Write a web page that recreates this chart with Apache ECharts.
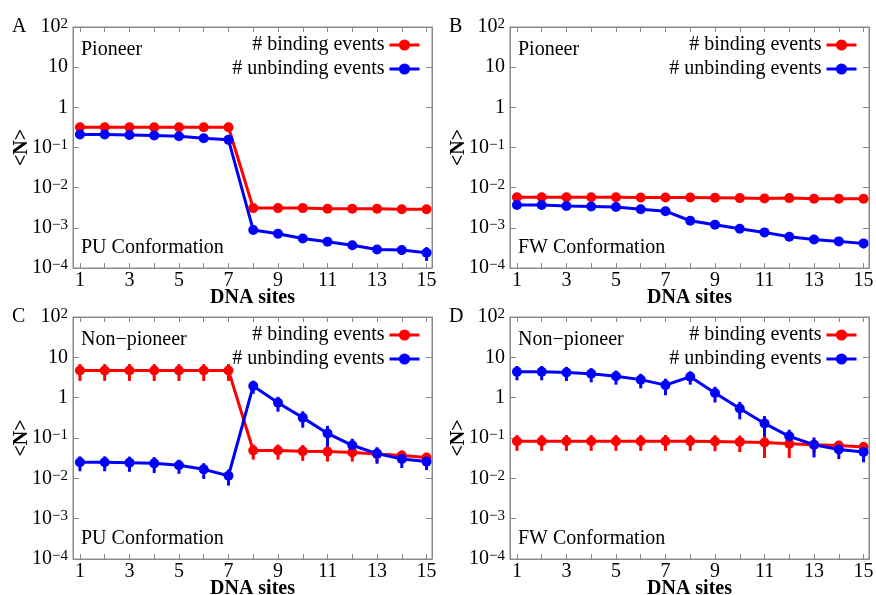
<!DOCTYPE html>
<html>
<head>
<meta charset="utf-8">
<script src="https://cdn.jsdelivr.net/npm/echarts@6/dist/echarts.min.js"></script>
<style>
	html, body { margin: 0; padding: 0; background: #fff; }
	#chart { width: 876px; height: 595px; }
</style>
</head>
<body>
<div id="chart"></div>
<script>
var sites = [1, 2, 3, 4, 5, 6, 7, 8, 9, 10, 11, 12, 13, 14, 15];
var siteLabels = [1, 3, 5, 7, 9, 11, 13, 15];

// A: pioneer, PU conformation
var puPioneerBind = [0.32, 0.32, 0.32, 0.32, 0.32, 0.32, 0.32, 0.0031, 0.0031, 0.0031, 0.003, 0.003, 0.003, 0.0029, 0.0029];
var puPioneerBindErr = [0.02, 0.02, 0.02, 0.02, 0.02, 0.02, 0.02, 0.0003, 0.0003, 0.0003, 0.0003, 0.0003, 0.0003, 0.0003, 0.0003];
var puPioneerUnbind = [0.21, 0.21, 0.205, 0.2, 0.19, 0.17, 0.155, 0.00088, 0.00071, 0.00054, 0.00045, 0.00037, 0.00029, 0.00028, 0.00024];
var puPioneerUnbindErr = [0.02, 0.02, 0.02, 0.02, 0.02, 0.02, 0.02, 0.00015, 0.0001, 0.0001, 0.00008, 0.00007, 0.00006, 0.00007, 0.00009];

// B: pioneer, FW conformation
var fwPioneerBind = [0.0058, 0.0058, 0.0058, 0.0058, 0.0058, 0.0057, 0.0057, 0.0057, 0.0056, 0.0055, 0.0054, 0.0055, 0.0053, 0.0053, 0.0053];
var fwPioneerBindErr = [0.0005, 0.0005, 0.0005, 0.0005, 0.0005, 0.0005, 0.0005, 0.0005, 0.0005, 0.0005, 0.0005, 0.0005, 0.0005, 0.0005, 0.0005];
var fwPioneerUnbind = [0.0037, 0.0037, 0.0035, 0.0034, 0.0033, 0.0029, 0.0026, 0.0015, 0.0012, 0.00095, 0.00077, 0.0006, 0.00051, 0.00046, 0.00041];
var fwPioneerUnbindErr = [0.0004, 0.0004, 0.0004, 0.0004, 0.0004, 0.0004, 0.0003, 0.0002, 0.0002, 0.00015, 0.00012, 0.0001, 0.0001, 0.0001, 0.0001];

// C: non-pioneer, PU conformation
var puNonBind = [4.7, 4.7, 4.7, 4.7, 4.7, 4.7, 4.7, 0.049, 0.049, 0.047, 0.046, 0.044, 0.04, 0.037, 0.033];
var puNonBindErr = [2.1, 2.1, 2.1, 2.1, 2.1, 2.1, 2.1, 0.02, 0.02, 0.02, 0.02, 0.018, 0.015, 0.012, 0.01];
var puNonUnbind = [0.025, 0.025, 0.0245, 0.0235, 0.021, 0.0167, 0.0116, 1.95, 0.75, 0.32, 0.13, 0.066, 0.041, 0.03, 0.026];
var puNonUnbindErr = [0.01, 0.01, 0.01, 0.01, 0.008, 0.007, 0.005, 0.7, 0.3, 0.14, 0.07, 0.03, 0.018, 0.012, 0.01];

// D: non-pioneer, FW conformation
var fwNonBind = [0.083, 0.083, 0.083, 0.083, 0.083, 0.083, 0.083, 0.083, 0.082, 0.08, 0.077, 0.072, 0.068, 0.065, 0.06];
var fwNonBindErr = [0.035, 0.035, 0.035, 0.035, 0.035, 0.035, 0.035, 0.035, 0.035, 0.035, 0.045, 0.04, 0.025, 0.02, 0.02];
var fwNonUnbind = [4.4, 4.4, 4.2, 3.9, 3.4, 2.8, 2.05, 3.3, 1.31, 0.54, 0.23, 0.11, 0.068, 0.052, 0.045];
var fwNonUnbindErr = [1.7, 1.7, 1.6, 1.5, 1.3, 1.1, 0.9, 1.2, 0.55, 0.25, 0.12, 0.05, 0.035, 0.022, 0.02];

var serif = '"Liberation Serif", "DejaVu Serif", serif';
var RED = '#ff0000';
var BLUE = '#0000ff';
var FRAME = '#8a8a8a';

var panels = [
	{ letter: 'A', kind: 'Pioneer', conf: 'PU Conformation', left: 73, top: 27, height: 241,
		bind: puPioneerBind, bindErr: puPioneerBindErr, unbind: puPioneerUnbind, unbindErr: puPioneerUnbindErr },
	{ letter: 'B', kind: 'Pioneer', conf: 'FW Conformation', left: 510, top: 27, height: 241,
		bind: fwPioneerBind, bindErr: fwPioneerBindErr, unbind: fwPioneerUnbind, unbindErr: fwPioneerUnbindErr },
	{ letter: 'C', kind: 'Non\u2212pioneer', conf: 'PU Conformation', left: 73, top: 317, height: 242,
		bind: puNonBind, bindErr: puNonBindErr, unbind: puNonUnbind, unbindErr: puNonUnbindErr },
	{ letter: 'D', kind: 'Non\u2212pioneer', conf: 'FW Conformation', left: 510, top: 317, height: 242,
		bind: fwNonBind, bindErr: fwNonBindErr, unbind: fwNonUnbind, unbindErr: fwNonUnbindErr }
];
var plotWidth = 359;

function logLabel(v) {
	var e = Math.round(Math.log10(v));
	if (e === 0) return '1';
	if (e === 1) return '10';
	return '10{sup|' + (e < 0 ? '\u2212' + (-e) : e) + '}';
}

function pairs(vals) {
	return vals.map(function (v, i) { return [sites[i], v]; });
}

function errorSeries(idx, vals, errs, color) {
	return {
		type: 'custom',
		xAxisIndex: idx * 2,
		yAxisIndex: idx * 2,
		silent: true,
		z: 3,
		data: vals.map(function (v, i) {
			return [sites[i], v, Math.max(v - errs[i], 1.5e-5), v + errs[i]];
		}),
		encode: { x: 0, y: 1 },
		renderItem: function (params, api) {
			var x = api.value(0);
			var lo = api.coord([x, api.value(2)]);
			var hi = api.coord([x, api.value(3)]);
			return {
				type: 'line',
				shape: { x1: lo[0], y1: lo[1], x2: hi[0], y2: hi[1] },
				style: { stroke: color, lineWidth: 3 }
			};
		}
	};
}

var grids = [], xAxes = [], yAxes = [], series = [], legends = [], texts = [];

panels.forEach(function (p, i) {
	grids.push({ left: p.left, top: p.top, width: plotWidth, height: p.height,
		outerBoundsMode: 'none', containLabel: false,
		show: true, borderColor: FRAME, borderWidth: 1, backgroundColor: 'transparent' });

	xAxes.push({
		gridIndex: i, type: 'value', position: 'bottom', min: 0.72, max: 15.22,
		axisLine: { show: true, onZero: false, lineStyle: { color: FRAME } },
		axisTick: { show: true, inside: true, length: 5, customValues: sites, lineStyle: { color: FRAME } },
		axisLabel: { customValues: siteLabels, margin: 3, fontSize: 20, fontFamily: serif, color: '#000' },
		splitLine: { show: false },
		name: 'DNA sites', nameLocation: 'middle', nameGap: 20, nameMoveOverlap: false,
		nameTextStyle: { fontWeight: 'bold', fontSize: 20, fontFamily: serif, color: '#000' }
	});
	xAxes.push({
		gridIndex: i, type: 'value', position: 'top', min: 0.72, max: 15.22,
		axisLine: { show: true, onZero: false, lineStyle: { color: FRAME } },
		axisTick: { show: true, inside: true, length: 5, customValues: sites, lineStyle: { color: FRAME } },
		axisLabel: { show: false }, splitLine: { show: false }
	});

	yAxes.push({
		gridIndex: i, type: 'log', logBase: 10, min: 1e-4, max: 100, position: 'left',
		axisLine: { show: true, lineStyle: { color: FRAME } },
		axisTick: { show: true, inside: true, length: 6, lineStyle: { color: FRAME } },
		axisLabel: {
			margin: 5, fontSize: 20, fontFamily: serif, color: '#000',
			formatter: logLabel,
			rich: { sup: { fontSize: 15, fontFamily: serif, color: '#000', verticalAlign: 'top', lineHeight: 10 } }
		},
		splitLine: { show: false }
	});
	yAxes.push({
		gridIndex: i, type: 'log', logBase: 10, min: 1e-4, max: 100, position: 'right',
		axisLine: { show: true, lineStyle: { color: FRAME } },
		axisTick: { show: true, inside: true, length: 6, lineStyle: { color: FRAME } },
		axisLabel: { show: false }, splitLine: { show: false }
	});

	series.push(errorSeries(i, p.bind, p.bindErr, RED));
	series.push(errorSeries(i, p.unbind, p.unbindErr, BLUE));
	series.push({
		name: '# binding events', type: 'line', xAxisIndex: i * 2, yAxisIndex: i * 2,
		data: pairs(p.bind), symbol: 'circle', symbolSize: 10, z: 4,
		lineStyle: { color: RED, width: 3 }, itemStyle: { color: RED }
	});
	series.push({
		name: '# unbinding events', type: 'line', xAxisIndex: i * 2, yAxisIndex: i * 2,
		data: pairs(p.unbind), symbol: 'circle', symbolSize: 10, z: 4,
		lineStyle: { color: BLUE, width: 3 }, itemStyle: { color: BLUE }
	});

	legends.push({
		orient: 'vertical', align: 'right', selectedMode: false, padding: 0,
		right: 876 - (p.left + plotWidth - 11), top: p.top + 8,
		itemWidth: 30, itemHeight: 14, itemGap: 4,
		lineStyle: { width: 3 },
		textStyle: { fontFamily: serif, fontSize: 20, color: '#000', padding: [0, 0, 0, 0] },
		data: ['# binding events', '# unbinding events']
	});

	var tx = p.left + 8;
	texts.push({ type: 'text', x: p.left - 61, y: p.top, style: { text: p.letter, fontFamily: serif, fontSize: 20, fill: '#000', verticalAlign: 'middle' } });
	texts.push({ type: 'text', x: tx, y: p.top + 23, style: { text: p.kind, fontFamily: serif, fontSize: 20, fill: '#000', verticalAlign: 'middle' } });
	texts.push({ type: 'text', x: tx, y: p.top + p.height - 20, style: { text: p.conf, fontFamily: serif, fontSize: 20, fill: '#000', verticalAlign: 'middle' } });
	texts.push({ type: 'text', x: p.left - 51, y: p.top + p.height / 2, rotation: Math.PI / 2,
		style: { text: '<N>', fontFamily: serif, fontSize: 20, fontWeight: 'bold', fill: '#000', align: 'center', verticalAlign: 'middle' } });
});

var chart = echarts.init(document.getElementById('chart'), null, { renderer: 'canvas' });
chart.setOption({
	animation: false,
	backgroundColor: '#fff',
	grid: grids,
	xAxis: xAxes,
	yAxis: yAxes,
	legend: legends,
	series: series,
	graphic: texts
});
</script>
</body>
</html>
